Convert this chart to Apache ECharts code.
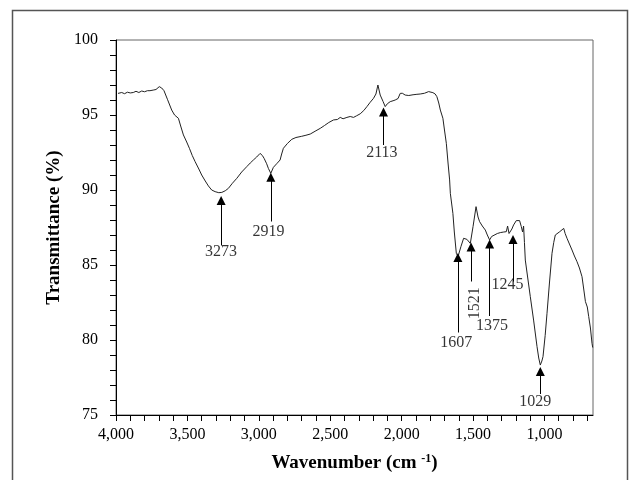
<!DOCTYPE html>
<html>
<head>
<meta charset="utf-8">
<script src="https://cdn.jsdelivr.net/npm/echarts@6/dist/echarts.min.js"></script>
<style>
  html, body { margin: 0; padding: 0; background: #fff; }
  #chart { width: 629px; height: 480px; }
</style>
</head>
<body>
<div id="chart"></div>
<script>
// spectrum: [wavenumber, transmittance %]
var spectrum = [
  [3986, 96.44], [3960, 96.5], [3940, 96.42], [3920, 96.52], [3900, 96.47], [3879, 96.5],
  [3860, 96.58], [3840, 96.5], [3820, 96.6], [3800, 96.55], [3780, 96.62], [3762, 96.62],
  [3740, 96.66], [3720, 96.7], [3697, 96.89], [3680, 96.8], [3664, 96.62], [3640, 96.05],
  [3610, 95.33], [3590, 95.0], [3563, 94.78], [3545, 94.2], [3528, 93.67], [3505, 93.2],
  [3486, 92.78], [3466, 92.3], [3446, 91.89], [3420, 91.4], [3400, 91.0], [3375, 90.6],
  [3353, 90.27], [3330, 90.0], [3306, 89.89], [3280, 89.82], [3259, 89.84], [3235, 89.95],
  [3213, 90.11], [3185, 90.45], [3154, 90.78], [3120, 91.2], [3084, 91.56], [3060, 91.8],
  [3038, 92.0], [3015, 92.2], [2991, 92.44], [2975, 92.3], [2963, 92.11], [2945, 91.75],
  [2933, 91.44], [2916, 91.11], [2898, 91.51], [2875, 91.75], [2851, 92.0], [2840, 92.4],
  [2828, 92.78], [2800, 93.1], [2769, 93.38], [2740, 93.5], [2700, 93.58], [2670, 93.65],
  [2640, 93.73], [2600, 93.95], [2570, 94.11], [2540, 94.3], [2510, 94.5], [2477, 94.67],
  [2450, 94.7], [2430, 94.84], [2410, 94.75], [2383, 94.84], [2360, 94.9], [2337, 94.84],
  [2315, 94.95], [2290, 95.08], [2265, 95.3], [2243, 95.56], [2220, 95.85], [2197, 96.11],
  [2180, 96.4], [2166, 97.0], [2150, 96.33], [2130, 95.9], [2115, 95.56], [2100, 95.75],
  [2080, 95.89], [2060, 95.95], [2045, 96.0], [2025, 96.1], [2010, 96.44], [1995, 96.45],
  [1975, 96.33], [1950, 96.3], [1920, 96.35], [1893, 96.38], [1870, 96.4], [1840, 96.45],
  [1811, 96.56], [1781, 96.49], [1765, 96.4], [1753, 96.22], [1740, 95.8], [1729, 95.33],
  [1711, 94.78], [1700, 94.0], [1687, 93.11], [1675, 91.8], [1664, 90.67], [1659, 89.78],
  [1641, 88.44], [1631, 87.2], [1617, 85.78], [1605, 85.56], [1585, 86.22], [1566, 86.78],
  [1543, 86.71], [1530, 86.6], [1519, 86.44], [1500, 87.56], [1479, 88.89], [1465, 88.2],
  [1454, 87.89], [1435, 87.6], [1414, 87.33], [1400, 87.0], [1384, 86.67], [1370, 86.9],
  [1356, 87.0], [1330, 87.1], [1309, 87.16], [1285, 87.2], [1267, 87.22], [1258, 87.6],
  [1248, 87.1], [1239, 87.11], [1228, 87.4], [1216, 87.67], [1197, 87.96], [1174, 87.96],
  [1162, 87.56], [1153, 87.2], [1146, 87.6], [1140, 86.5], [1134, 85.33], [1115, 84.0],
  [1099, 82.89], [1076, 81.33], [1052, 79.56], [1040, 78.8], [1029, 78.33], [1018, 78.6],
  [1010, 78.89], [995, 80.3], [982, 81.78], [965, 83.8], [947, 85.78], [935, 86.5],
  [924, 87.0], [910, 87.1], [893, 87.22], [880, 87.3], [865, 87.44], [855, 87.1],
  [842, 86.78], [825, 86.4], [807, 86.0], [790, 85.6], [772, 85.22], [755, 84.8],
  [737, 84.22], [725, 83.4], [713, 82.56], [700, 82.2], [690, 81.56], [678, 80.8],
  [667, 79.78], [662, 79.5]
];

// peak annotations (all in data units)
var peakNames = ['3273', '2919', '2113', '1607', '1521', '1375', '1245', '1029'];
var peakX     = [3264, 2916, 2127, 1606, 1514, 1384, 1220, 1029];
var arrowTop  = [89.3, 90.85, 95.2, 85.5, 86.2, 86.4, 86.7, 77.9];
var arrowEnd  = [86.3, 87.9, 93.0, 80.5, 83.9, 81.6, 83.9, 76.4];
var textX     = [3264, 2933, 2138, 1617, 1491, 1367, 1258, 1064];
var textY     = [85.85, 87.2, 92.5, 79.8, 82.45, 80.95, 83.7, 75.9];
var textTurn  = [0, 0, 0, 0, 90, 0, 0, 0];

var xTicks = [];
for (var t = 700; t <= 4000; t += 100) xTicks.push(t);
var xLabels = [1000, 1500, 2000, 2500, 3000, 3500, 4000];

var serif = '"Liberation Serif", "DejaVu Serif", serif';

var arrows = peakNames.map(function (n, i) {
  return [
    { coord: [peakX[i], arrowEnd[i]], symbol: 'none' },
    { coord: [peakX[i], arrowTop[i]], symbol: 'triangle', symbolSize: [9, 9] }
  ];
});
var texts = peakNames.map(function (n, i) {
  return { value: [textX[i], textY[i]], name: n, label: { rotate: textTurn[i] } };
});

var chart = echarts.init(document.getElementById('chart'));
chart.setOption({
  animation: false,
  backgroundColor: '#fff',
  graphic: [{
    type: 'rect',
    shape: { x: 12.5, y: 10.5, width: 615, height: 480 },
    style: { fill: 'none', stroke: '#555', lineWidth: 1.5 },
    silent: true
  }],
  grid: {
    left: 116, right: 36, top: 40, bottom: 65,
    show: true, borderColor: '#666', borderWidth: 1
  },
  xAxis: {
    type: 'value',
    inverse: true,
    min: 660,
    max: 4000,
    name: 'Wavenumber (cm {sup|-1})',
    nameLocation: 'middle',
    nameGap: 38,
    nameTextStyle: {
      fontFamily: serif, fontWeight: 'bold', fontSize: 19, color: '#000',
      rich: {
        sup: { fontFamily: serif, fontWeight: 'bold', fontSize: 12, color: '#000', padding: [0, 0, 9, 0] }
      }
    },
    splitLine: { show: false },
    axisLine: { onZero: false, lineStyle: { color: '#000', width: 1 } },
    axisTick: { customValues: xTicks, length: 6, lineStyle: { color: '#000' } },
    axisLabel: {
      customValues: xLabels,
      margin: 12,
      fontFamily: serif, fontSize: 16, color: '#000',
      formatter: function (v) { return v.toLocaleString('en-US'); }
    }
  },
  yAxis: {
    type: 'value',
    min: 75,
    max: 100,
    interval: 1,
    name: 'Transmittance (%)',
    nameLocation: 'middle',
    nameGap: 52,
    nameTextStyle: { fontFamily: serif, fontWeight: 'bold', fontSize: 19, color: '#000' },
    splitLine: { show: false },
    axisLine: { show: true, onZero: false, lineStyle: { color: '#000', width: 1 } },
    axisTick: { show: true, length: 6, lineStyle: { color: '#000' } },
    axisLabel: {
      margin: 18,
      fontFamily: serif, fontSize: 16, color: '#000',
      formatter: function (v) { return v % 5 === 0 ? String(v) : ''; }
    }
  },
  series: [
    {
      type: 'line',
      data: spectrum,
      showSymbol: false,
      lineStyle: { color: '#222', width: 1 },
      silent: true
    },
    {
      type: 'scatter',
      data: texts,
      symbolSize: 0,
      silent: true,
      label: {
        show: true,
        position: 'inside',
        formatter: '{b}',
        fontFamily: serif, fontSize: 16, color: '#000'
      },
      markLine: {
        silent: true,
        symbol: ['none', 'triangle'],
        symbolSize: 9,
        label: { show: false },
        lineStyle: { color: '#000', width: 1, type: 'solid' },
        itemStyle: { color: '#000' },
        data: arrows
      }
    }
  ]
});
</script>
</body>
</html>
